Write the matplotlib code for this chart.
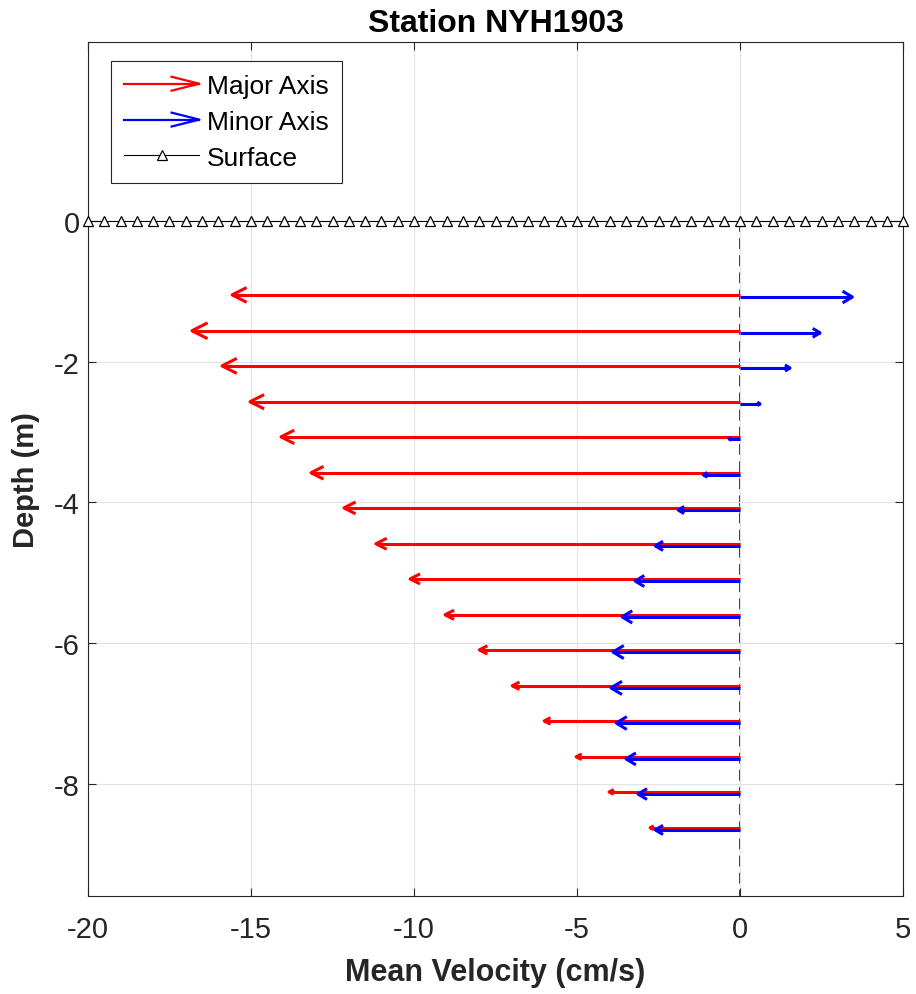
import numpy as np
import matplotlib
matplotlib.use("Agg")
import matplotlib.pyplot as plt
from matplotlib.lines import Line2D
from matplotlib.legend_handler import HandlerBase

plt.rcParams['font.family'] = ['Liberation Sans', 'DejaVu Sans']
plt.rcParams['axes.unicode_minus'] = False

# bin depths (m) and mean velocity components (cm/s)
depth = [-1.05, -1.56, -2.06, -2.57, -3.07, -3.58, -4.08, -4.59,
         -5.09, -5.60, -6.10, -6.61, -7.11, -7.62, -8.12, -8.63]
major = [-15.58, -16.81, -15.89, -15.03, -14.08, -13.16, -12.15, -11.17,
         -10.12, -9.05, -8.00, -6.99, -6.01, -5.03, -4.02, -2.76]
minor = [3.44, 2.45, 1.53, 0.61, -0.34, -1.13, -1.90, -2.60,
         -3.22, -3.62, -3.90, -3.96, -3.80, -3.50, -3.13, -2.60]
surface_x = np.arange(-20, 5.01, 0.5)

AX_COLOR = '#262626'


def draw_arrows(ax, u, y, color, head_len, head_wid, z):
    # quiver-style open arrows starting at x=0; head scales with length
    for ui, yi in zip(u, y):
        ax.plot([0, ui], [yi, yi], color=color, lw=2.2, zorder=z,
                solid_capstyle='butt')
        hl = head_len * ui
        hw = head_wid * abs(ui)
        ax.plot([ui - hl, ui, ui - hl], [yi + hw, yi, yi - hw],
                color=color, lw=2.2, zorder=z)


class HandlerArrow(HandlerBase):
    def create_artists(self, legend, orig_handle, xdescent, ydescent,
                       width, height, fontsize, trans):
        c = orig_handle.get_color()
        ym = height / 2 - ydescent
        x0, x1 = -xdescent, width - xdescent
        shaft = Line2D([x0, x1], [ym, ym], color=c, lw=1.6)
        head = Line2D([x1 - 20, x1, x1 - 20], [ym + 5, ym, ym - 5],
                      color=c, lw=1.6)
        for a in (shaft, head):
            a.set_transform(trans)
        return [shaft, head]


fig = plt.figure(figsize=(9.16, 9.95), dpi=100)
ax = fig.add_axes([0.096, 0.0985, 0.89, 0.8585])

ax.grid(True, color='#e3e3e3', lw=0.8, zorder=0)
ax.plot([0, 0], [0, -9.6], color=AX_COLOR, ls=(0, (6, 3.5)), lw=1.3, zorder=1)

draw_arrows(ax, major, depth, 'red', 0.026, 0.0061, 3)
draw_arrows(ax, minor, [d - 0.03 for d in depth], 'blue', 0.075, 0.021, 4)

surf, = ax.plot(surface_x, np.zeros_like(surface_x), color='k', lw=0.8,
                marker='^', mfc='white', mec='k', ms=7, mew=0.9,
                clip_on=False, zorder=5)

h_major = Line2D([], [], color='red')
h_minor = Line2D([], [], color='blue')
leg = ax.legend([h_major, h_minor, surf], ['Major Axis', 'Minor Axis', 'Surface'],
                handler_map={h_major: HandlerArrow(), h_minor: HandlerArrow()},
                loc='upper left', bbox_to_anchor=(0.0282, 0.9778),
                borderaxespad=0, fontsize=19,
                handlelength=2.85, handletextpad=0.3, labelspacing=0.45,
                borderpad=0.5, fancybox=False, edgecolor=AX_COLOR,
                framealpha=1)
leg.get_frame().set_linewidth(0.8)

ax.set_xlim(-20, 5)
ax.set_ylim(-9.6, 2.55)
ax.set_xticks([-20, -15, -10, -5, 0, 5])
ax.set_yticks([-8, -6, -4, -2, 0])
ax.tick_params(direction='in', length=6, top=True, right=True,
               labelsize=21, colors=AX_COLOR)
ax.tick_params(axis='x', pad=14)
ax.tick_params(axis='y', pad=6)
for s in ax.spines.values():
    s.set_color(AX_COLOR)
    s.set_linewidth(0.8)

ax.set_xlabel('Mean Velocity (cm/s)', fontsize=22, fontweight='bold',
              color=AX_COLOR)
ax.xaxis.set_label_coords(0.5, -0.071)
ax.set_ylabel('Depth (m)', fontsize=21, fontweight='bold', color=AX_COLOR)
ax.yaxis.set_label_coords(-0.059, 0.488)
ax.set_title('Station NYH1903', fontsize=23, fontweight='bold', pad=8)

fig.savefig('out.png', dpi=100)
